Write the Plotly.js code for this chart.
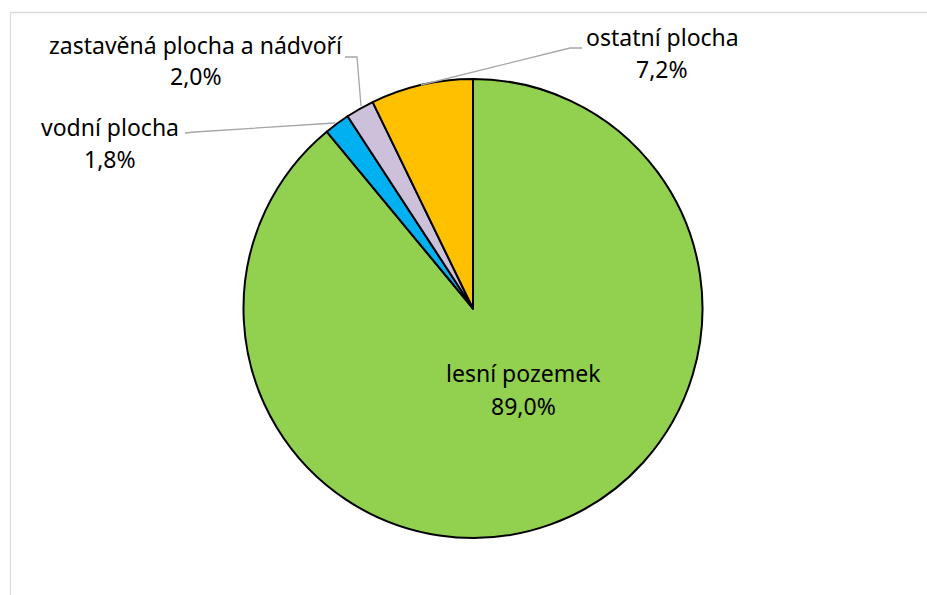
<!DOCTYPE html>
<html>
<head>
<meta charset="utf-8">
<script src="https://cdn.plot.ly/plotly-3.0.1.min.js"></script>
<style>html,body{margin:0;padding:0;background:#fff;}#chart{width:927px;height:595px;}</style>
</head>
<body>
<div id="chart"></div>
<script>
// Data
const categories = ["lesní pozemek", "vodní plocha", "zastavěná plocha a nádvoří", "ostatní plocha"];
const values = [89.0, 1.8, 2.0, 7.2];
const colors = ["#92D050", "#00B0F0", "#CCC0DA", "#FFC000"];

const W = 927, H = 595;
const px = x => x / W;
const py = y => 1 - y / H;
const fmt = v => v.toFixed(1).replace('.', ',') + '%';

// label placement (pixel centres of the two text lines)
const labelPos = [
  {x: 523, y1: 372, y2: 405},
  {x: 110, y1: 126, y2: 158},
  {x: 196, y1: 44, y2: 75},
  {x: 662, y1: 36, y2: 68}
];

const font = {family: "Noto Sans, sans-serif", size: 23, color: "#000"};

const annotations = [];
categories.forEach((c, i) => {
  annotations.push({xref: 'paper', yref: 'paper', x: px(labelPos[i].x), y: py(labelPos[i].y1 + 1),
    xanchor: 'center', yanchor: 'middle', text: c, showarrow: false, font: font});
  annotations.push({xref: 'paper', yref: 'paper', x: px(labelPos[i].x), y: py(labelPos[i].y2 + 1),
    xanchor: 'center', yanchor: 'middle', text: fmt(values[i]), showarrow: false, font: font});
});

const leader = {color: '#A6A6A6', width: 1.3};
const pathFrom = pts => 'M ' + pts.map(p => px(p[0]) + ' ' + py(p[1])).join(' L ');
const shapes = [
  {type: 'rect', xref: 'paper', yref: 'paper', x0: px(10.5), y0: py(12.5), x1: px(940), y1: py(620),
   line: {color: '#D9D9D9', width: 1.3}, fillcolor: 'rgba(0,0,0,0)', layer: 'below'},
  {type: 'path', xref: 'paper', yref: 'paper', path: pathFrom([[582, 48], [570, 48], [421, 85]]), line: leader},
  {type: 'path', xref: 'paper', yref: 'paper', path: pathFrom([[345, 57], [357, 57], [361, 106]]), line: leader},
  {type: 'path', xref: 'paper', yref: 'paper', path: pathFrom([[185, 133], [195, 132], [335, 123]]), line: leader}
];

const cx = 473, cy = 308.5, r = 229.5;
const trace = {
  type: 'pie',
  labels: categories,
  values: values,
  sort: false,
  direction: 'clockwise',
  rotation: 0,
  marker: {colors: colors, line: {color: '#000', width: 2}},
  textinfo: 'none',
  hoverinfo: 'label+percent',
  domain: {x: [px(cx - r), px(cx + r)], y: [py(cy + r), py(cy - r)]},
  showlegend: false
};

Plotly.newPlot('chart', [trace], {
  width: W, height: H,
  margin: {l: 0, r: 0, t: 0, b: 0},
  paper_bgcolor: '#fff',
  annotations: annotations,
  shapes: shapes,
  showlegend: false
}, {displayModeBar: false, staticPlot: true});
</script>
</body>
</html>
